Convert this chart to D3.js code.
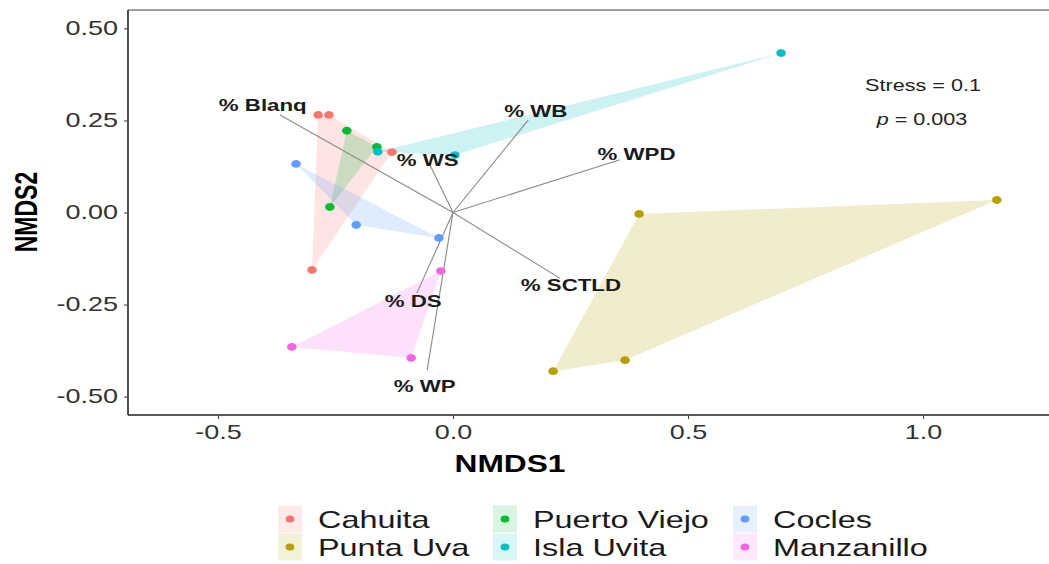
<!DOCTYPE html>
<html>
<head>
<meta charset="utf-8">
<script src="https://cdn.jsdelivr.net/npm/d3@7"></script>
<style>
  body { margin: 0; background: #fff; }
  svg { display: block; font-family: 'Liberation Sans', Arial, sans-serif; }
</style>
</head>
<body>
<svg id="chart" width="1049" height="564"></svg>
<script>
// sites (ggplot hue palette order)
const sites = ['Cahuita', 'Punta Uva', 'Puerto Viejo', 'Isla Uvita', 'Cocles', 'Manzanillo'];
const siteColors = ['#F8766D', '#B79F00', '#00BA38', '#00BFC4', '#619CFF', '#F564E3'];

// sample scores
const sampleSite = [
  'Cahuita', 'Cahuita', 'Cahuita', 'Cahuita',
  'Punta Uva', 'Punta Uva', 'Punta Uva', 'Punta Uva',
  'Puerto Viejo', 'Puerto Viejo', 'Puerto Viejo',
  'Isla Uvita', 'Isla Uvita', 'Isla Uvita',
  'Cocles', 'Cocles', 'Cocles',
  'Manzanillo', 'Manzanillo', 'Manzanillo'
];
const nmds1 = [
  -0.287, -0.264, -0.130, -0.300,
  0.396, 1.157, 0.213, 0.366,
  -0.226, -0.162, -0.262,
  0.698, 0.004, -0.160,
  -0.334, -0.206, -0.030,
  -0.026, -0.343, -0.089
];
const nmds2 = [
  0.265, 0.265, 0.164, -0.156,
  -0.004, 0.034, -0.431, -0.401,
  0.222, 0.178, 0.015,
  0.433, 0.156, 0.165,
  0.132, -0.034, -0.069,
  -0.159, -0.365, -0.395
];

// fitted vectors
const vectorNames = ['% Blanq', '% WS', '% WB', '% WPD', '% SCTLD', '% DS', '% WP'];
const vectorX = [-0.368, -0.049, 0.160, 0.355, 0.228, -0.077, -0.055];
const vectorY = [0.265, 0.129, 0.251, 0.143, -0.179, -0.219, -0.428];

const xTicks = [-0.5, 0.0, 0.5, 1.0];
const yTicks = [-0.5, -0.25, 0.0, 0.25, 0.5];

const stressText = 'Stress = 0.1';
const pText = '0.003';

// layout
const SX = 1.35; // the figure is stretched horizontally
const panelLeft = 128, panelTop = 10, panelRight = 1049, panelBottom = 415;

const svg = d3.select('#chart');

const x = d3.scaleLinear().domain([-0.6915, 1.268]).range([panelLeft, panelRight]);
const y = d3.scaleLinear().domain([-0.55, 0.55]).range([panelBottom, panelTop]);
const color = d3.scaleOrdinal().domain(sites).range(siteColors);

const samples = sampleSite.map((s, i) => ({ site: s, x: nmds1[i], y: nmds2[i] }));

// hulls
const hullLayer = svg.append('g');
sites.forEach(site => {
  const pts = samples.filter(d => d.site === site).map(d => [x(d.x), y(d.y)]);
  const hull = d3.polygonHull(pts) || pts;
  hullLayer.append('path')
    .attr('d', 'M' + hull.join('L') + 'Z')
    .attr('fill', color(site))
    .attr('fill-opacity', 0.2)
    .attr('stroke', 'none');
});

// vectors
const vectors = vectorNames.map((n, i) => ({ name: n, x: vectorX[i], y: vectorY[i] }));
svg.append('g').selectAll('line')
  .data(vectors)
  .enter()
  .append('line')
  .attr('x1', x(0)).attr('y1', y(0))
  .attr('x2', d => x(d.x)).attr('y2', d => y(d.y))
  .attr('stroke', '#8a8a8a')
  .attr('stroke-width', 1.1);

// points
svg.append('g').selectAll('ellipse')
  .data(samples)
  .enter()
  .append('ellipse')
  .attr('cx', d => x(d.x))
  .attr('cy', d => y(d.y))
  .attr('rx', 4.8)
  .attr('ry', 3.9)
  .attr('fill', d => color(d.site));

// vector labels
svg.append('g').selectAll('text')
  .data(vectors)
  .enter()
  .append('text')
  .attr('transform', d => `translate(${x(d.x * 1.1)},${y(d.y * 1.1)}) scale(${SX},1)`)
  .attr('text-anchor', 'middle')
  .attr('dy', '0.35em')
  .style('font-size', '16.5px')
  .style('font-weight', 'bold')
  .style('fill', '#1a1a1a')
  .text(d => d.name);

// panel border: grey top, black axes
svg.append('line')
  .attr('x1', panelLeft).attr('x2', panelRight).attr('y1', panelTop).attr('y2', panelTop)
  .attr('stroke', '#7f7f7f').attr('stroke-width', 1.3);

const xAxis = svg.append('g')
  .attr('transform', `translate(0,${panelBottom})`)
  .call(d3.axisBottom(x).tickValues(xTicks).tickFormat(d => d.toFixed(1)).tickSize(4).tickPadding(6));
const yAxis = svg.append('g')
  .attr('transform', `translate(${panelLeft},0)`)
  .call(d3.axisLeft(y).tickValues(yTicks).tickFormat(d => d.toFixed(2)).tickSize(4).tickPadding(6));

[xAxis, yAxis].forEach(ax => {
  ax.attr('font-family', null).attr('font-size', null);
  ax.select('.domain').attr('stroke', '#222').attr('stroke-width', 1.6);
  ax.selectAll('.tick line').attr('stroke', '#444').attr('stroke-width', 1.1);
  ax.selectAll('.tick text').style('font-size', '20px').style('fill', '#333');
});
xAxis.select('.domain').attr('d', `M${panelLeft},0H${panelRight}`);
yAxis.select('.domain').attr('d', `M0,${panelTop}V${panelBottom}`);

// stretch the tick labels horizontally
xAxis.selectAll('.tick text')
  .attr('transform', `scale(${SX},1)`);
yAxis.selectAll('.tick text')
  .attr('x', null)
  .attr('transform', `translate(-10,0) scale(${SX},1)`);

// axis titles
svg.append('text')
  .attr('transform', `translate(510,472) scale(${SX},1)`)
  .attr('text-anchor', 'middle')
  .style('font-size', '23.5px').style('font-weight', 'bold')
  .text('NMDS1');
svg.append('text')
  .attr('transform', `translate(37,212) scale(${SX},1) rotate(-90)`)
  .attr('text-anchor', 'middle')
  .style('font-size', '23px').style('font-weight', 'bold')
  .text('NMDS2');

// stress / p annotation
svg.append('text')
  .attr('transform', `translate(923,91) scale(${SX},1)`)
  .attr('text-anchor', 'middle')
  .style('font-size', '16px').style('fill', '#222')
  .text(stressText);
const pLabel = svg.append('text')
  .attr('transform', `translate(922,125) scale(${SX},1)`)
  .attr('text-anchor', 'middle')
  .style('font-size', '16px').style('fill', '#222');
pLabel.append('tspan').style('font-style', 'italic').text('p');
pLabel.append('tspan').text(' = ' + pText);

// legend (3 columns x 2 rows, filled by column)
const legendColX = [290, 505, 745];
const legendRowY = [519, 547];
const legend = svg.append('g');
sites.forEach((site, i) => {
  const cx = legendColX[Math.floor(i / 2)];
  const cy = legendRowY[i % 2];
  const g = legend.append('g');
  g.append('rect')
    .attr('x', cx - 12).attr('y', cy - 13.5)
    .attr('width', 24).attr('height', 27)
    .attr('fill', color(site)).attr('fill-opacity', 0.15);
  g.append('ellipse')
    .attr('cx', cx).attr('cy', cy)
    .attr('rx', 4.4).attr('ry', 3.6)
    .attr('fill', color(site));
  g.append('text')
    .attr('transform', `translate(${cx + 28},${cy}) scale(${SX},1)`)
    .attr('dy', '0.36em')
    .style('font-size', '24px').style('fill', '#1a1a1a')
    .text(site);
});
</script>
</body>
</html>
